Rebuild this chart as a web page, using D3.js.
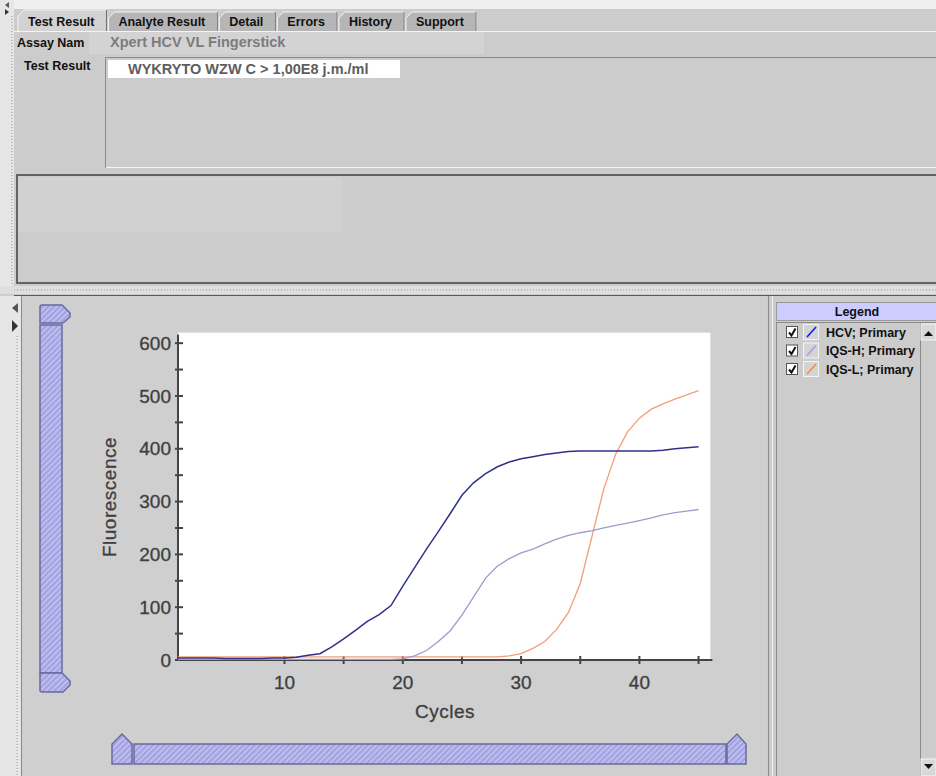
<!DOCTYPE html>
<html>
<head>
<meta charset="utf-8">
<script src="https://cdn.jsdelivr.net/npm/d3@7"></script>
<style>
  body { margin: 0; background: #cccccc; }
  svg { display: block; font-family: Arial, "Liberation Sans", sans-serif; }
  .ui-bold { font-weight: bold; font-size: 12.5px; fill: #111; }
  .tick-label { font-size: 19px; fill: #3e3e3e; stroke: #3e3e3e; stroke-width: 0.3px; }
  .axis-title { font-size: 19px; fill: #3e3e3e; stroke: #3e3e3e; stroke-width: 0.3px; letter-spacing: 0.5px; }
</style>
</head>
<body>
<svg id="chart"></svg>
<script>
// cycle numbers and fluorescence readings per channel
const cycles = [1, 2, 3, 4, 5, 6, 7, 8, 9, 10, 11, 12, 13, 14, 15, 16, 17, 18, 19, 20,
  21, 22, 23, 24, 25, 26, 27, 28, 29, 30, 31, 32, 33, 34, 35, 36, 37, 38, 39, 40,
  41, 42, 43, 44, 45];
const hcv = [4, 4, 4, 4, 3, 3, 3, 3, 4, 4, 5, 9, 12, 25, 40, 56, 73, 86, 103, 140,
  175, 210, 243, 277, 312, 336, 353, 366, 375, 381, 385, 389, 392, 395, 396, 396, 396, 396, 396, 396,
  396, 397, 400, 402, 404];
const iqsH = [1, 1, 1, 1, 1, 1, 1, 1, 1, 1, 1, 1, 1, 1, 1, 1, 1, 1, 1, 2,
  8, 18, 35, 55, 85, 120, 155, 178, 192, 203, 210, 220, 229, 236, 241, 245, 250, 255, 259, 264,
  269, 275, 279, 282, 285];
const iqsL = [6, 6, 6, 6, 6, 6, 6, 6, 6, 6, 6, 6, 6, 6, 6, 6, 6, 6, 6, 6,
  6, 6, 6, 6, 6, 6, 6, 6, 8, 12, 22, 35, 58, 90, 145, 235, 325, 390, 432, 458,
  475, 485, 494, 502, 510];

const seriesNames = ['HCV; Primary', 'IQS-H; Primary', 'IQS-L; Primary'];
const yTicks = [0, 100, 200, 300, 400, 500, 600];
const yMinorTicks = [50, 150, 250, 350, 450, 550];
const xTicks = [10, 20, 30, 40];
const xMinorTicks = [15, 25, 35, 45];
const tabNames = ['Test Result', 'Analyte Result', 'Detail', 'Errors', 'History', 'Support'];
const assayName = 'Xpert HCV VL Fingerstick';
const testResult = 'WYKRYTO WZW C > 1,00E8 j.m./ml';

const lineColors = ['#30308a', '#9c9cd0', '#f49c78'];
const iconColors = ['#1a1aee', '#a4a4d4', '#ff8844'];

const W = 936, H = 776;
const svg = d3.select('#chart').attr('width', W).attr('height', H);

const defs = svg.append('defs');
const hatch = defs.append('pattern')
  .attr('id', 'hatch')
  .attr('width', 4).attr('height', 4)
  .attr('patternUnits', 'userSpaceOnUse')
  .attr('patternTransform', 'rotate(45)');
hatch.append('rect').attr('width', 4).attr('height', 4).attr('fill', '#a2a2e2');
hatch.append('line').attr('x1', 1).attr('y1', 0).attr('x2', 1).attr('y2', 4)
  .attr('stroke', '#c6c6f2').attr('stroke-width', 1.5);

// ---------- window chrome, top part ----------
svg.append('rect').attr('width', W).attr('height', H).attr('fill', '#cccccc');
svg.append('rect').attr('width', W).attr('height', 9).attr('fill', '#efefef');
svg.append('rect').attr('x', 0).attr('y', 0).attr('width', 14).attr('height', 290).attr('fill', '#e6e6e6');
svg.append('line').attr('x1', 12).attr('x2', 12).attr('y1', 16).attr('y2', 288)
  .attr('stroke', '#9a9a9a').attr('stroke-dasharray', '1,2');
svg.append('path').attr('d', 'M9,2 L5,5 L9,8 Z').attr('fill', '#555');
svg.append('path').attr('d', 'M5,9 L9,12 L5,15 Z').attr('fill', '#333');

// tabs
const tabG = svg.append('g');
let tabX = 18;
tabNames.forEach((name, i) => {
  const sel = i === 0;
  const g = tabG.append('g');
  const t = g.append('text')
    .attr('class', 'ui-bold')
    .attr('y', 26)
    .text(name);
  const tw = t.node().getComputedTextLength();
  const w = tw + 22;
  const top = sel ? 10 : 12;
  g.insert('path', 'text')
    .attr('d', `M${tabX},31 L${tabX},${top + 6} L${tabX + 6},${top} L${tabX + w},${top} L${tabX + w},31`)
    .attr('fill', sel ? '#d2d2d2' : '#b6b6b6')
    .attr('stroke', '#f4f4f4');
  g.append('line')
    .attr('x1', tabX + w).attr('x2', tabX + w).attr('y1', top).attr('y2', 31)
    .attr('stroke', '#6e6e6e');
  t.attr('x', tabX + 10);
  tabX += w + 2;
});
svg.append('line').attr('x1', 14).attr('x2', W).attr('y1', 31.5).attr('y2', 31.5).attr('stroke', '#f4f4f4');

// assay name row
svg.append('text').attr('class', 'ui-bold').attr('x', 17).attr('y', 47).text('Assay Nam');
svg.append('rect').attr('x', 89).attr('y', 32).attr('width', 395).attr('height', 22).attr('fill', '#d3d3d3');
svg.append('text').attr('class', 'ui-bold')
  .attr('x', 110).attr('y', 47)
  .style('font-size', '14.5px').style('fill', '#7c7c7c')
  .text(assayName);

// test result row
svg.append('text').attr('class', 'ui-bold').attr('x', 24).attr('y', 70).text('Test Result');
svg.append('rect').attr('x', 105.5).attr('y', 57.5).attr('width', 840).attr('height', 110)
  .attr('fill', '#cccccc').attr('stroke', '#8a8a8a');
svg.append('line').attr('x1', 106).attr('x2', W).attr('y1', 167.5).attr('y2', 167.5).attr('stroke', '#f6f6f6');
svg.append('rect').attr('x', 108).attr('y', 60).attr('width', 292).attr('height', 18).attr('fill', '#ffffff');
svg.append('text').attr('class', 'ui-bold')
  .attr('x', 128).attr('y', 74)
  .style('font-size', '14.5px').style('fill', '#5e5e5e')
  .text(testResult);

// empty panel
svg.append('rect').attr('x', 17).attr('y', 175).attr('width', 930).attr('height', 108)
  .attr('fill', '#cccccc').attr('stroke', '#404040').attr('stroke-width', 1.5);
svg.append('rect').attr('x', 18).attr('y', 177).attr('width', 324).attr('height', 55).attr('fill', '#d1d1d1');

// split divider
svg.append('rect').attr('x', 0).attr('y', 286).attr('width', W).attr('height', 8).attr('fill', '#dedede');
svg.append('line').attr('x1', 14).attr('x2', W).attr('y1', 290).attr('y2', 290)
  .attr('stroke', '#9c9c9c').attr('stroke-dasharray', '1,2');
svg.append('line').attr('x1', 14).attr('x2', W).attr('y1', 295.5).attr('y2', 295.5).attr('stroke', '#5a5a5a');

// ---------- lower part ----------
svg.append('rect').attr('x', 0).attr('y', 296).attr('width', 21).attr('height', H - 296).attr('fill', '#e6e6e6');
svg.append('line').attr('x1', 17).attr('x2', 17).attr('y1', 336).attr('y2', H)
  .attr('stroke', '#9a9a9a').attr('stroke-dasharray', '1,2');
svg.append('path').attr('d', 'M18,303 L12,308 L18,313 Z').attr('fill', '#555');
svg.append('path').attr('d', 'M12,320 L18,326 L12,332 Z').attr('fill', '#333');
svg.append('rect').attr('x', 21).attr('y', 296).attr('width', 746).attr('height', H - 296).attr('fill', '#cfcfcf');
svg.append('line').attr('x1', 21.5).attr('x2', 21.5).attr('y1', 296).attr('y2', H).attr('stroke', '#8a8a8a');

// sliders
const sliderStyle = sel => sel.attr('fill', 'url(#hatch)').attr('stroke', '#6a6a9c').attr('stroke-width', 1.5);
svg.append('path').attr('d', 'M40,323 L40,307 Q40,305 42,305 L62,305 L70,313 L70,317 L63,323 Z').call(sliderStyle);
svg.append('rect').attr('x', 40).attr('y', 325).attr('width', 22).attr('height', 348).call(sliderStyle);
svg.append('path').attr('d', 'M40,673 L62,673 L70,681 L70,685 L63,692 L42,692 Q40,692 40,690 Z').call(sliderStyle);
svg.append('path').attr('d', 'M112,764 L112,744 L122,734 L132,744 L132,764 Z').call(sliderStyle);
svg.append('rect').attr('x', 134).attr('y', 744).attr('width', 592).attr('height', 20).call(sliderStyle);
svg.append('path').attr('d', 'M727,764 L727,744 L737,734 L746,744 L746,764 Z').call(sliderStyle);

// ---------- plot ----------
const xScale = d3.scaleLinear().domain([1, 46]).range([178, 710.4]);
const yScale = d3.scaleLinear().domain([0, 620]).range([660, 332.6]);

svg.append('rect')
  .attr('x', xScale(1)).attr('y', yScale(620))
  .attr('width', xScale(46) - xScale(1)).attr('height', yScale(0) - yScale(620))
  .attr('fill', '#ffffff');

const axisColor = '#444444';
const yAxisG = svg.append('g');
yAxisG.append('line')
  .attr('x1', xScale(1)).attr('x2', xScale(1))
  .attr('y1', yScale(0)).attr('y2', yScale(620) + 2)
  .attr('stroke', axisColor).attr('stroke-width', 2);
yAxisG.selectAll('.ytick').data(yTicks.concat(yMinorTicks)).join('line')
  .attr('x1', xScale(1) - 3).attr('x2', xScale(1) + 5)
  .attr('y1', d => yScale(d)).attr('y2', d => yScale(d))
  .attr('stroke', axisColor).attr('stroke-width', 2);
yAxisG.selectAll('.ylabel').data(yTicks).join('text')
  .attr('class', 'tick-label')
  .attr('x', xScale(1) - 7)
  .attr('y', d => yScale(d))
  .attr('dy', '0.35em')
  .attr('text-anchor', 'end')
  .text(d => d);

const xAxisG = svg.append('g');
xAxisG.append('line')
  .attr('x1', xScale(1)).attr('x2', xScale(46) + 2)
  .attr('y1', yScale(0)).attr('y2', yScale(0))
  .attr('stroke', axisColor).attr('stroke-width', 2);
xAxisG.selectAll('.xtick').data(xTicks.concat(xMinorTicks)).join('line')
  .attr('x1', d => xScale(d)).attr('x2', d => xScale(d))
  .attr('y1', yScale(0) - 4).attr('y2', yScale(0) + 4)
  .attr('stroke', axisColor).attr('stroke-width', 2);
xAxisG.selectAll('.xlabel').data(xTicks).join('text')
  .attr('class', 'tick-label')
  .attr('x', d => xScale(d))
  .attr('y', yScale(0) + 29)
  .attr('text-anchor', 'middle')
  .text(d => d);

svg.append('text')
  .attr('class', 'axis-title')
  .attr('x', 445).attr('y', 718)
  .attr('text-anchor', 'middle')
  .text('Cycles');
svg.append('text')
  .attr('class', 'axis-title')
  .attr('transform', `translate(116, 497) rotate(-90)`)
  .attr('text-anchor', 'middle')
  .text('Fluorescence');

// curves
const series = [hcv, iqsH, iqsL];
const line = d3.line()
  .x((d, i) => xScale(cycles[i]))
  .y(d => yScale(d));

svg.append('g').selectAll('path').data(series.slice().reverse()).join('path')
  .attr('d', line)
  .attr('fill', 'none')
  .attr('stroke', (d, i) => lineColors[2 - i])
  .attr('stroke-width', (d, i) => i === 2 ? 1.5 : 1.3);

// ---------- legend panel ----------
svg.append('line').attr('x1', 768.5).attr('x2', 768.5).attr('y1', 296).attr('y2', H).attr('stroke', '#8c8c8c');
svg.append('line').attr('x1', 772.5).attr('x2', 772.5).attr('y1', 296).attr('y2', H).attr('stroke', '#f2f2f2');
svg.append('rect').attr('x', 776.5).attr('y', 302.5).attr('width', 165).attr('height', 18)
  .attr('fill', '#ccccff').attr('stroke', '#9a9a9a');
svg.append('text').attr('class', 'ui-bold')
  .attr('x', 857).attr('y', 316)
  .attr('text-anchor', 'middle')
  .text('Legend');
svg.append('rect').attr('x', 776.5).attr('y', 322.5).attr('width', 170).attr('height', 460)
  .attr('fill', 'none').attr('stroke', '#8a8a8a');

// scrollbar
svg.append('line').attr('x1', 920.5).attr('x2', 920.5).attr('y1', 323).attr('y2', H).attr('stroke', '#8a8a8a');
svg.append('rect').attr('x', 921).attr('y', 324).attr('width', 15).attr('height', 16).attr('fill', '#d8d8d8').attr('stroke', '#f6f6f6');
svg.append('path').attr('d', 'M924,336 L928.5,331 L933,336 Z').attr('fill', '#111');
svg.append('rect').attr('x', 921).attr('y', 759).attr('width', 15).attr('height', 17).attr('fill', '#d8d8d8').attr('stroke', '#f6f6f6');
svg.append('path').attr('d', 'M924,764 L933,764 L928.5,769 Z').attr('fill', '#111');

const rows = svg.append('g').selectAll('g').data(seriesNames).join('g')
  .attr('transform', (d, i) => `translate(0, ${332 + i * 18.5})`);
rows.append('rect')
  .attr('x', 786.5).attr('y', -5.5).attr('width', 11).attr('height', 11)
  .attr('fill', '#ffffff').attr('stroke', '#555');
rows.append('path')
  .attr('d', 'M789,0.5 L791.5,3.5 L795.5,-3.5')
  .attr('fill', 'none').attr('stroke', '#111').attr('stroke-width', 2);
rows.append('rect')
  .attr('x', 803.5).attr('y', -7.5).attr('width', 15).attr('height', 15)
  .attr('fill', '#d4d4d4').attr('stroke', '#f4f4f4');
rows.append('line')
  .attr('x1', 807).attr('y1', 5).attr('x2', 816).attr('y2', -5)
  .attr('stroke', (d, i) => iconColors[i]).attr('stroke-width', 1.6);
rows.append('text')
  .attr('class', 'ui-bold')
  .attr('x', 826).attr('y', 4.5)
  .text(d => d);
</script>
</body>
</html>
